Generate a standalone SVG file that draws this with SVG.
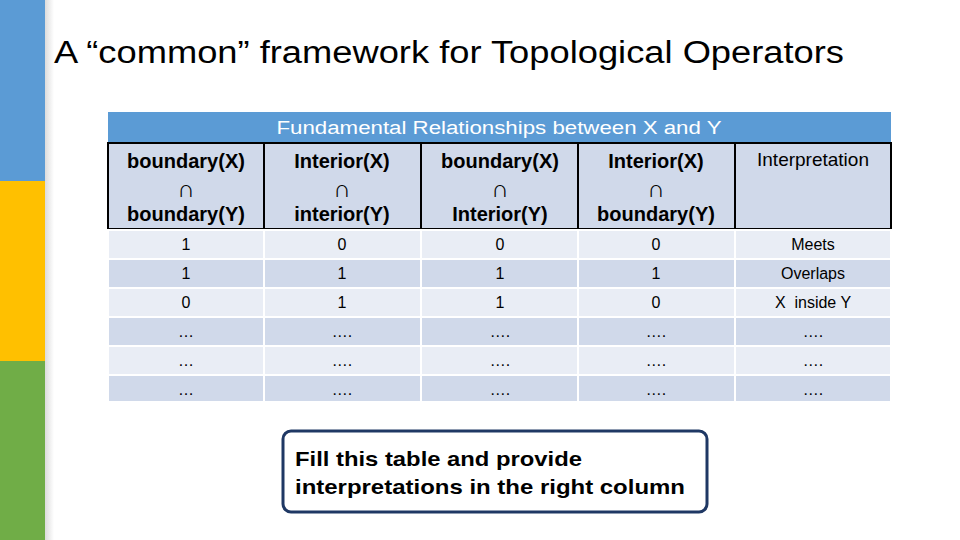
<svg xmlns="http://www.w3.org/2000/svg" width="960" height="540" viewBox="0 0 960 540">
<defs>
<linearGradient id="fade" x1="0" x2="1" y1="0" y2="0"><stop offset="0" stop-color="#d8d8d8"/><stop offset="1" stop-color="#ffffff"/></linearGradient>
</defs>
<style>
text{font-family:"Liberation Sans",Arial,sans-serif;fill:#000}
.h{font-size:20px;font-weight:bold;text-anchor:middle;fill:#222}
.n{font-size:24px;font-weight:normal}
.c{font-size:16px;text-anchor:middle}
.l{fill:#e9edf5}
.d{fill:#d0d9ea}
</style>
<rect width="960" height="540" fill="#fff"/>
<rect x="44" y="0" width="10" height="540" fill="url(#fade)"/>
<rect x="0" y="0" width="45" height="181" fill="#5b9bd5"/>
<rect x="0" y="181" width="45" height="180" fill="#ffc000"/>
<rect x="0" y="361" width="45" height="179" fill="#70ad47"/>
<text x="54" y="63" font-size="31" textLength="790" lengthAdjust="spacingAndGlyphs" fill="#222">A “common” framework for Topological Operators</text>
<g id="table">
<rect x="108" y="112" width="783" height="31" fill="#5b9bd5"/>
<text x="499" y="134" font-size="18" textLength="445" lengthAdjust="spacingAndGlyphs" text-anchor="middle" style="fill:#fff">Fundamental Relationships between X and Y</text>
<rect x="108" y="143" width="783" height="86" fill="#d0d9ea" stroke="#000" stroke-width="2"/>
<g stroke="#000" stroke-width="2"><line x1="264" y1="143" x2="264" y2="229"/><line x1="421" y1="143" x2="421" y2="229"/><line x1="578" y1="143" x2="578" y2="229"/><line x1="735" y1="143" x2="735" y2="229"/></g>
<g class="h">
<text x="186" y="168">boundary(X)</text><text class="n" x="186" y="197">∩</text><text x="186" y="221">boundary(Y)</text>
<text x="342" y="168">Interior(X)</text><text class="n" x="342" y="197">∩</text><text x="342" y="221">interior(Y)</text>
<text x="500" y="168">boundary(X)</text><text class="n" x="500" y="197">∩</text><text x="500" y="221">Interior(Y)</text>
<text x="656" y="168">Interior(X)</text><text class="n" x="656" y="197">∩</text><text x="656" y="221">boundary(Y)</text>
<text x="813" y="166" font-weight="normal" font-size="19">Interpretation</text>
</g>
<g stroke="#fff" stroke-width="2">
<rect class="l" x="108" y="230" width="783" height="29"/>
<rect class="d" x="108" y="259" width="783" height="29"/>
<rect class="l" x="108" y="288" width="783" height="29"/>
<rect class="d" x="108" y="317" width="783" height="29"/>
<rect class="l" x="108" y="346" width="783" height="29"/>
<rect class="d" x="108" y="375" width="783" height="27"/>
<line x1="264" y1="230" x2="264" y2="402"/><line x1="421" y1="230" x2="421" y2="402"/><line x1="578" y1="230" x2="578" y2="402"/><line x1="735" y1="230" x2="735" y2="402"/>
</g>
<g class="c">
<text x="186" y="250">1</text><text x="342" y="250">0</text><text x="500" y="250">0</text><text x="656" y="250">0</text><text x="813" y="250">Meets</text>
<text x="186" y="279">1</text><text x="342" y="279">1</text><text x="500" y="279">1</text><text x="656" y="279">1</text><text x="813" y="279">Overlaps</text>
<text x="186" y="308">0</text><text x="342" y="308">1</text><text x="500" y="308">1</text><text x="656" y="308">0</text><text x="813" y="308" xml:space="preserve">X  inside Y</text>
<text x="186" y="337">…</text><text x="342" y="337">….</text><text x="500" y="337">….</text><text x="656" y="337">….</text><text x="813" y="337">….</text>
<text x="186" y="366">…</text><text x="342" y="366">….</text><text x="500" y="366">….</text><text x="656" y="366">….</text><text x="813" y="366">….</text>
<text x="186" y="395">…</text><text x="342" y="395">….</text><text x="500" y="395">….</text><text x="656" y="395">….</text><text x="813" y="395">….</text>
</g>
</g>
<g id="note">
<rect x="283" y="431" width="424" height="81" rx="8" fill="#fff" stroke="#1f3864" stroke-width="3"/>
<text x="295" y="466" font-size="21" font-weight="bold" fill="#222" textLength="287" lengthAdjust="spacingAndGlyphs">Fill this table and provide</text>
<text x="295" y="494" font-size="21" font-weight="bold" fill="#222" textLength="390" lengthAdjust="spacingAndGlyphs">interpretations in the right column</text>
</g>
</svg>
